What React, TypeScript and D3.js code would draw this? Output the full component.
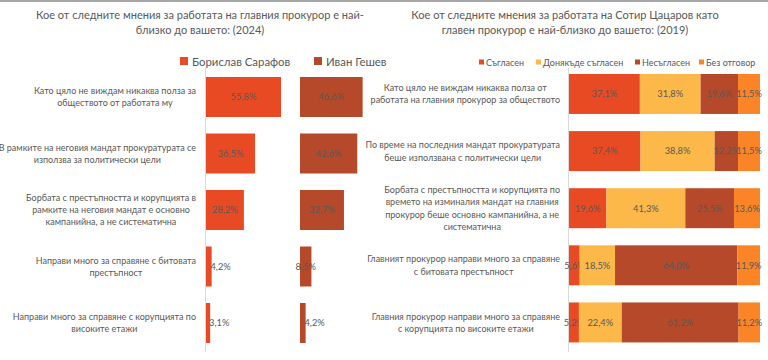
import React, { useEffect, useRef } from "react";
import * as d3 from "d3";

const leftTitle = [
  "Кое от следните мнения за работата на главния прокурор е най-",
  "близко до вашето: (2024)",
];
const rightTitle = [
  "Кое от следните мнения за работата на Сотир Цацаров като",
  "главен прокурор е най-близко до вашето: (2019)",
];
const leftCategories = [
  "Като цяло не виждам никаква полза за\nобществото от работата му",
  "В рамките на неговия мандат прокуратурата се\nизползва за политически цели",
  "Борбата с престъпността и корупцията в\nрамките на неговия мандат е основно\nкампанийна, а не систематична",
  "Направи много за справяне с битовата\nпрестъпност",
  "Направи много за справяне с корупцията по\nвисоките етажи",
];
const leftSeries = ["Борислав Сарафов", "Иван Гешев"];
const sarafovValues = [55.8, 36.5, 28.2, 4.2, 3.1];
const geshevValues = [46.6, 42.6, 32.7, 8.5, 4.2];

const rightCategories = [
  "Като цяло не виждам никаква полза от\nработата на главния прокурор за обществото",
  "По време на последния мандат прокуратурата\nбеше използвана с политически цели",
  "Борбата с престъпността и корупцията по\nвремето на изминалия мандат на главния\nпрокурор беше основно кампанийна, а не\nсистематична",
  "Главният прокурор направи много за справяне\nс битовата престъпност",
  "Главния прокурор направи много за справяне\nс корупцията по високите етажи",
];
const rightSeries = ["Съгласен", "Донякъде съгласен", "Несъгласен", "Без отговор"];
const agreeValues = [37.1, 37.4, 19.6, 5.6, 5.2];
const partlyValues = [31.8, 38.8, 41.3, 18.5, 22.4];
const disagreeValues = [19.6, 12.2, 25.5, 64.0, 61.2];
const noAnswerValues = [11.5, 11.5, 13.6, 11.9, 11.2];

const leftColors = ["#E84B23", "#B5492A"];
const rightColors = ["#E84B23", "#FDB84A", "#B5492A", "#FB8526"];

const FONT = "Lato, 'Open Sans', sans-serif";
const TEXT = "#595959";

const fmt = (v: number) => d3.format(".1f")(v).replace(".", ",") + "%";

let ctx: CanvasRenderingContext2D | null = null;
function measure(s: string, size: number) {
  if (!ctx) ctx = document.createElement("canvas").getContext("2d");
  ctx!.font = `${size}px Lato`;
  return ctx!.measureText(s).width;
}

export default function App() {
  const ref = useRef<SVGSVGElement>(null);
  useEffect(() => {
    const svg = d3.select(ref.current!);
    svg.selectAll("*").remove();
    const W = 768;

    svg.append("rect").attr("x", 0).attr("y", 0).attr("width", W).attr("height", 2).attr("fill", "#A6A6A6");

    const drawTitle = (lines: string[], cx: number) => {
      lines.forEach((l, i) => {
        svg.append("text").attr("x", cx).attr("y", 19 + i * 15).attr("text-anchor", "middle")
          .attr("font-family", FONT).attr("font-size", 11).attr("fill", TEXT).text(l);
      });
    };
    drawTitle(leftTitle, 200);
    drawTitle(rightTitle, 565);

    const LABEL_SIZE = 9;
    const VAL_SIZE = 9.3;
    const drawCatLabels = (cats: string[], y: d3.ScaleBand<string>, right: number, lh: number) => {
      cats.forEach((c) => {
        const lines = c.split("\n");
        const maxW = d3.max(lines, (l) => measure(l, LABEL_SIZE))!;
        const cx = right - maxW / 2;
        const cy = y(c)! + y.bandwidth() / 2;
        lines.forEach((l, i) => {
          svg.append("text").attr("x", cx).attr("y", cy + (i - (lines.length - 1) / 2) * lh + 3.3)
            .attr("text-anchor", "middle").attr("font-family", FONT).attr("font-size", LABEL_SIZE)
            .attr("fill", TEXT).text(l);
        });
      });
    };

    // LEFT PANEL
    const yL = d3.scaleBand<string>().domain(leftCategories).range([68.75, 351.25])
      .paddingInner(0.292).paddingOuter(0.146);
    const xL = d3.scaleLinear().domain([0, 100]).range([0, 134.4]);
    const groupX = [206, 300];
    const leftData = [sarafovValues, geshevValues];

    svg.append("line").attr("x1", 205.5).attr("x2", 205.5).attr("y1", 68).attr("y2", 352)
      .attr("stroke", "#D9D9D9").attr("stroke-width", 1);

    leftData.forEach((vals, s) => {
      const g = svg.append("g");
      g.selectAll("rect").data(vals).join("rect")
        .attr("x", groupX[s]).attr("y", (_, i) => yL(leftCategories[i])!)
        .attr("width", (d) => xL(d)).attr("height", yL.bandwidth()).attr("fill", leftColors[s]);
      g.selectAll("text").data(vals).join("text")
        .attr("x", (d) => {
          const w = xL(d);
          return w >= 10 ? groupX[s] + w / 2 : groupX[s] + w + 9;
        })
        .attr("y", (_, i) => yL(leftCategories[i])! + yL.bandwidth() / 2 + 3.3)
        .attr("text-anchor", "middle").attr("font-family", FONT).attr("font-size", VAL_SIZE)
        .attr("fill", TEXT).text((d) => fmt(d));
    });
    drawCatLabels(leftCategories, yL, 196, 12);

    // left legend
    const legL = [180, 314];
    legL.forEach((x, i) => {
      svg.append("rect").attr("x", x).attr("y", 57).attr("width", 8).attr("height", 8).attr("fill", leftColors[i]);
      svg.append("text").attr("x", x + 12).attr("y", 65.5).attr("font-family", FONT).attr("font-size", 11.4)
        .attr("fill", TEXT).text(leftSeries[i]);
    });

    // RIGHT PANEL
    const yR = d3.scaleBand<string>().domain(rightCategories).range([65.4, 351])
      .paddingInner(0.3).paddingOuter(0.15);
    const xR = d3.scaleLinear().domain([0, 1]).range([569, 760]);
    const rows = rightCategories.map((c, i) => ({
      cat: c,
      [rightSeries[0]]: agreeValues[i],
      [rightSeries[1]]: partlyValues[i],
      [rightSeries[2]]: disagreeValues[i],
      [rightSeries[3]]: noAnswerValues[i],
    }));
    const stack = d3.stack<any>().keys(rightSeries).offset(d3.stackOffsetExpand);
    const layers = stack(rows as any);

    svg.append("line").attr("x1", 568.5).attr("x2", 568.5).attr("y1", 68).attr("y2", 352)
      .attr("stroke", "#D9D9D9").attr("stroke-width", 1);

    layers.forEach((layer, s) => {
      const g = svg.append("g");
      g.selectAll("rect").data(layer).join("rect")
        .attr("x", (d) => xR(d[0])).attr("y", (d) => yR(d.data.cat)!)
        .attr("width", (d) => xR(d[1]) - xR(d[0])).attr("height", yR.bandwidth())
        .attr("fill", rightColors[s]);
      g.selectAll("text").data(layer).join("text")
        .attr("x", (d) => (xR(d[0]) + xR(d[1])) / 2)
        .attr("y", (d) => yR(d.data.cat)! + yR.bandwidth() / 2 + 3.3)
        .attr("text-anchor", "middle").attr("font-family", FONT).attr("font-size", VAL_SIZE)
        .attr("fill", TEXT).text((d) => fmt(d.data[rightSeries[s]]));
    });
    drawCatLabels(rightCategories, yR, 560, 12.3);

    const legR = [479, 536, 635, 699];
    legR.forEach((x, i) => {
      svg.append("rect").attr("x", x).attr("y", 59.5).attr("width", 5).attr("height", 5).attr("fill", rightColors[i]);
      svg.append("text").attr("x", x + 7).attr("y", 65.5).attr("font-family", FONT).attr("font-size", 9)
        .attr("fill", TEXT).text(rightSeries[i]);
    });
  }, []);

  return (
    <svg ref={ref} width={768} height={360} style={{ position: "absolute", left: 0, top: 0, background: "#fff" }} />
  );
}
